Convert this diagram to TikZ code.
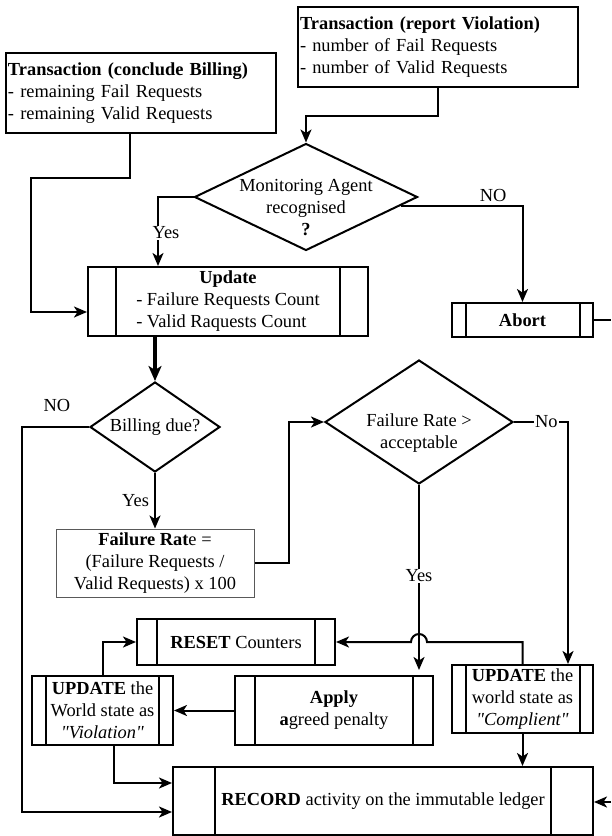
\documentclass[tikz,border=0pt]{standalone}
\usepackage{fontspec}
\setmainfont{Liberation Serif}[Ligatures=TeXOff]
\usetikzlibrary{arrows.meta,shapes.geometric,calc}
\tikzset{
  base/.style={line width=2pt},
  arr/.style={base,-{Stealth[length=13pt,width=11pt,inset=3.5pt]}},
  thickarr/.style={line width=3.2pt,-{Stealth[length=15pt,width=13pt,inset=4pt]}},
  box/.style={draw,base,rectangle,inner sep=0pt,align=center},
  txtbox/.style={draw,base,rectangle,inner xsep=2pt,inner ysep=0pt,align=left},
  proc/.style={box,path picture={
      \draw[line width=2pt] ([xshift=#1]path picture bounding box.north west) -- ([xshift=#1]path picture bounding box.south west)
                              ([xshift=-#1]path picture bounding box.north east) -- ([xshift=-#1]path picture bounding box.south east);}},
  decis/.style={draw,base,diamond,inner sep=0pt},
  lbl/.style={inner sep=1pt},
  lblw/.style={inner sep=1pt,fill=white},
}
\begin{document}
\begin{tikzpicture}[x=1pt,y=1pt,font=\fontsize{18.4}{22}\selectfont]
\fill[white] (0,0) rectangle (611,-836);
\useasboundingbox (0,0) rectangle (611,-836);

% top transaction boxes
\node[txtbox,minimum width=270pt,minimum height=80pt,text width=266pt] (cb) at (141,-93)
  {\textbf{Transaction (conclude Billing)}\\- remaining Fail Requests\\- remaining Valid Requests};
\node[txtbox,minimum width=280pt,minimum height=80pt,text width=276pt] (rv) at (438,-47)
  {\textbf{Transaction (report Violation)}\\- number of Fail Requests\\- number of Valid Requests};

% monitoring decision
\node[decis,minimum width=223pt,minimum height=107pt] (mon) at (306,-197) {};
\node[align=center,inner sep=0pt] (monlbl) at (306,-208) {Monitoring Agent\\recognised\\\textbf{?}};

% update
\node[proc=28pt,minimum width=280pt,minimum height=69pt] (upd) at (228,-301.5)
  {\begin{tabular}{@{}l@{}}\multicolumn{1}{@{}c@{}}{\textbf{Update}}\\- Failure Requests Count\\- Valid Raquests Count\end{tabular}};

% abort
\node[proc=13.5pt,minimum width=141pt,minimum height=34pt] (abort) at (522.5,-320) {\textbf{Abort}};
\coordinate (abortend) at (611,-320);

% billing decision
\node[decis,minimum width=130pt,minimum height=90pt] (bill) at (155,-427) {};
\node[inner sep=0pt] (billlbl) at (155,-427) {Billing due?};

% failure rate box
\node[draw=black!65,line width=1pt,rectangle,inner sep=0pt,align=center,minimum width=198pt,minimum height=68pt] (fr) at (155,-563)
  {\textbf{Failure Rat}e =\\(Failure Requests /\\Valid Requests) x 100};

% failure rate decision
\node[decis,minimum width=188pt,minimum height=124pt] (fracc) at (419,-422) {};
\node[align=center,inner sep=0pt] (fracclbl) at (419,-433) {Failure Rate >\\acceptable};

% lower processes
\node[proc=20pt,minimum width=198pt,minimum height=46pt] (rst) at (236,-642) {\textbf{RESET} Counters};
\node[proc=14pt,minimum width=141pt,minimum height=69pt] (viol) at (102.5,-710.5)
  {\textbf{UPDATE} the\\World state as\\\textit{"Violation"}};
\node[proc=20pt,minimum width=198pt,minimum height=69pt] (apply) at (334,-710.5)
  {\textbf{Apply}\\\textbf{a}greed penalty};
\node[proc=13.5pt,minimum width=141pt,minimum height=68pt] (comp) at (522.5,-699)
  {\textbf{UPDATE} the\\world state as\\\textit{"Complient"}};
\node[proc=42pt,minimum width=420pt,minimum height=68pt] (rec) at (383,-801)
  {\textbf{RECORD} activity on the immutable ledger};
\coordinate (recin) at (611,-802);

% connectors
\draw[arr] (rv.south) -- ++(0,-28) -| (mon.north);
\coordinate (cbturn) at (31,-178);
\draw[arr] ([xshift=-11pt]cb.south) |- (cbturn) |- ([yshift=-10.5pt]upd.west);
\draw[arr] (mon.west) -| ([xshift=-70pt]upd.north) node[lblw,pos=0.76,xshift=8pt] (yes1) {Yes};
\draw[arr] ($(mon.east)!0.16!(mon.south)$) -| (abort.north) node[lbl,pos=0.38,above=2pt] (no1) {NO};
\draw[base] (abort.east) -- (abortend);
\draw[thickarr] (bill.north |- upd.south) -- (bill.north);
\coordinate (billturn) at (22,-427);
\draw[arr] (bill.west) -- (billturn) |- ([yshift=-11pt]rec.west);
\node[lbl] (no2) at (57,-405) {NO};
\draw[arr] (bill.south) -- (fr.north) node[lbl,midway,left=4pt] (yes2) {Yes};
\draw[arr] (fr.east) -- ++(34,0) |- (fracc.west);
\draw[arr] (fracc.east) -| ([xshift=45.5pt]comp.north) node[lblw,pos=0.3] (no3) {No};
\draw[arr] (comp.north) -- (comp.north |- rst.east) -- ([xshift=8pt]fracc.south |- rst.east)
  arc[start angle=0,end angle=180,radius=8pt] -- (rst.east);
\draw[arr] (fracc.south) -- ([yshift=5pt]fracc.south |- apply.north) node[lblw,pos=0.49] (yes3) {Yes};
\draw[arr] (apply.west) -- (viol.east);
\draw[arr] (viol.north) |- (rst.west);
\draw[arr] ([xshift=11pt]viol.south) |- ([yshift=18pt]rec.west);
\draw[arr] (comp.south) -- (comp.south |- rec.north);
\draw[arr] (recin) -- (recin -| rec.east);
\end{tikzpicture}
\end{document}
